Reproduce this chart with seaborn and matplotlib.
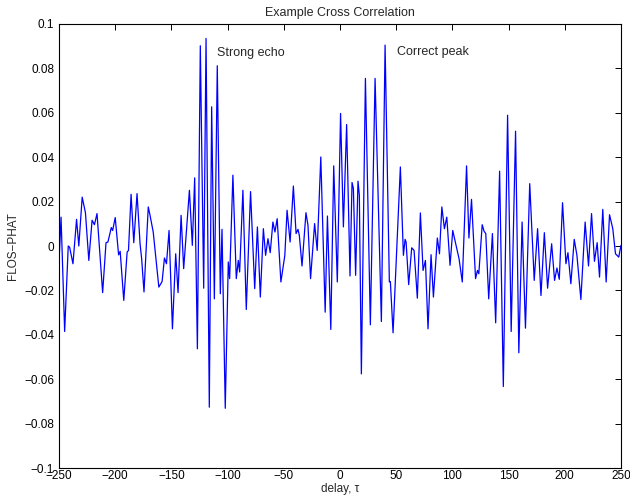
import matplotlib
matplotlib.use("Agg")
import matplotlib.pyplot as plt
import seaborn as sns

# turning points of the cross correlation
delay = [
    -250, -248.2, -245, -241.8, -240.6, -237.6, -234.4, -232.4, -229.4, -226.5,
    -223.5, -220.6, -218.5, -216.2, -211.2, -208.2, -206.5, -203.5, -202.3, -200,
    -197, -195.6, -192.4, -189.4, -188.2, -185.9, -183.5, -180.6, -177.9, -176.5,
    -174.4, -170.6, -169.1, -166.2, -161.2, -158.3, -156.2, -154.4, -152.1, -149.1,
    -146.2, -144.1, -141.4, -139.1, -134.0, -131.4, -129.3, -126.9, -124.3, -121.3,
    -119.2, -116.3, -114.2, -111.8, -109.2, -106.5, -105.0, -102.1, -99.4, -98.2,
    -95.3, -92.3, -90.5, -89.3, -86.4, -83.4, -79.6, -75.9, -73.5, -70.9,
    -68.2, -66.2, -64.1, -62.1, -59.7, -57.9, -55.9, -52.6, -49.1, -47.1,
    -44.4, -41.5, -39.1, -37.4, -36.2, -33.8, -30.3, -28.5, -26.2, -22.6,
    -20.3, -17.1, -13.2, -11.2, -8.2, -5.6, -2.4, 0.5, 3.0, 5.9,
    8.9, 10.7, 11.9, 13.9, 16.0, 17.2, 19.0, 22.6, 27.0, 31.2,
    36.8, 40.1, 43.9, 44.8, 47.2, 53.7, 56.4, 57.9, 58.8, 61.1,
    63.8, 65.9, 68.8, 71.5, 73.9, 76.0, 78.3, 81.0, 83.1, 86.6,
    88.5, 90.6, 92.9, 95.0, 97.9, 100.3, 102.9, 105.9, 108.8, 112.6,
    114.7, 117.0, 120.6, 122.3, 123.5, 126.5, 128.2, 129.7, 132.3, 135.6,
    138.5, 142.0, 145.3, 149.1, 152.3, 156.2, 159.1, 162.0, 165.0, 168.8,
    172.8, 175.8, 178.8, 181.8, 184.7, 188.3, 190.9, 193.0, 195.1, 198.0,
    201.0, 202.8, 205.4, 208.4, 210.8, 214.3, 218.1, 221.1, 223.8, 226.4,
    228.8, 230.9, 233.8, 236.8, 239.8, 242.7, 245.1, 248.0, 250,
]
flos_phat = [
    -0.007, 0.013, -0.0385, 0.0, -0.0005, -0.008, 0.012, 0.0, 0.022, 0.015,
    -0.0065, 0.0116, 0.0096, 0.0146, -0.021, 0.0015, 0.0018, 0.0083, 0.007, 0.0128,
    -0.004, -0.0024, -0.0245, -0.0027, -0.002, 0.0233, 0.0015, 0.0236, 0.001, -0.0057,
    -0.0207, 0.0176, 0.014, 0.0063, -0.0185, -0.016, -0.0054, -0.008, 0.007, -0.0373,
    -0.0035, -0.021, 0.0138, -0.0102, 0.0251, 0.0003, 0.0307, -0.0463, 0.0902, -0.019,
    0.0935, -0.0726, 0.0627, -0.0238, 0.0812, -0.0215, 0.0075, -0.0731, -0.0072, -0.0147,
    0.0319, -0.0147, -0.0065, -0.0117, 0.0251, -0.0286, 0.0245, -0.0192, 0.0086, -0.023,
    0.0078, -0.0042, 0.0033, -0.003, 0.0108, 0.0063, 0.0123, -0.0162, -0.0042, 0.0161,
    0.0018, 0.027, 0.0056, 0.0075, 0.0048, -0.009, 0.015, 0.0093, -0.0147, 0.0101,
    -0.002, 0.0401, -0.0298, 0.0135, -0.0376, 0.0361, -0.0162, 0.0597, 0.0086, 0.0547,
    -0.0135, 0.0286, 0.0259, -0.0132, 0.0292, 0.0229, -0.0576, 0.0755, -0.0355, 0.0755,
    -0.034, 0.0905, -0.0162, -0.016, -0.0391, 0.0356, -0.0042, 0.003, 0.0018, -0.0174,
    -0.0008, -0.002, -0.0235, 0.0149, -0.011, -0.0065, -0.0373, -0.0039, -0.023, 0.0036,
    -0.0035, 0.0176, 0.0078, 0.013, -0.0087, 0.007, 0.001, -0.0057, -0.0162, 0.0361,
    0.0036, 0.021, -0.0147, -0.011, -0.0125, 0.0096, 0.0066, 0.0056, -0.0238, 0.0056,
    -0.0346, 0.0337, -0.0633, 0.0589, -0.0385, 0.0517, -0.0481, 0.0108, -0.037, 0.0281,
    -0.0155, 0.0078, -0.0223, 0.006, -0.019, 0.001, -0.0155, -0.0099, -0.015, 0.0195,
    -0.008, -0.003, -0.017, 0.003, -0.0042, -0.0241, 0.0108, -0.009, 0.0146, -0.0069,
    0.0015, -0.014, 0.0165, -0.0162, 0.0141, 0.0078, -0.0035, -0.005, 0.0003,
]

x_ticks = [-250, -200, -150, -100, -50, 0, 50, 100, 150, 200, 250]
y_ticks = [-0.1, -0.08, -0.06, -0.04, -0.02, 0, 0.02, 0.04, 0.06, 0.08, 0.1]
y_labels = ["\u22120.1", "\u22120.08", "\u22120.06", "\u22120.04", "\u22120.02", "0",
            "0.02", "0.04", "0.06", "0.08", "0.1"]

notes = ["Strong echo", "Correct peak"]
note_x = [-109.5, 50.5]
note_y = [0.0868, 0.0872]

sns.set_style("white")
plt.rcParams['font.family'] = ['Liberation Sans', 'DejaVu Sans']
plt.rcParams['axes.linewidth'] = 0.8

fig = plt.figure(figsize=(6.3, 5.04), dpi=100)
ax = fig.add_axes([0.0937, 0.0714, 0.8920, 0.8810])

sns.lineplot(x=delay, y=flos_phat, color='blue', linewidth=0.9,
             sort=False, estimator=None, ax=ax)

ax.set_xlim(-250, 250)
ax.set_ylim(-0.1, 0.1)
ax.set_xticks(x_ticks)
ax.set_yticks(y_ticks)
ax.set_yticklabels(y_labels)
ax.tick_params(direction='in', top=True, right=True, length=4, width=0.7,
               labelsize=8.5, colors='black')
ax.tick_params(axis='y', pad=3.5)
ax.tick_params(axis='x', pad=1.5)
for s in ax.spines.values():
    s.set_color('black')

ax.set_title('Example Cross Correlation', fontsize=9, pad=6)
ax.set_xlabel('delay, \u03c4', fontsize=8.5, labelpad=1)
ax.set_ylabel('FLOS\u2212PHAT', fontsize=8.5, labelpad=4)

for t, xx, yy in zip(notes, note_x, note_y):
    ax.text(xx, yy, t, fontsize=9, ha='left', va='center')

fig.savefig('out.png', dpi=100)
